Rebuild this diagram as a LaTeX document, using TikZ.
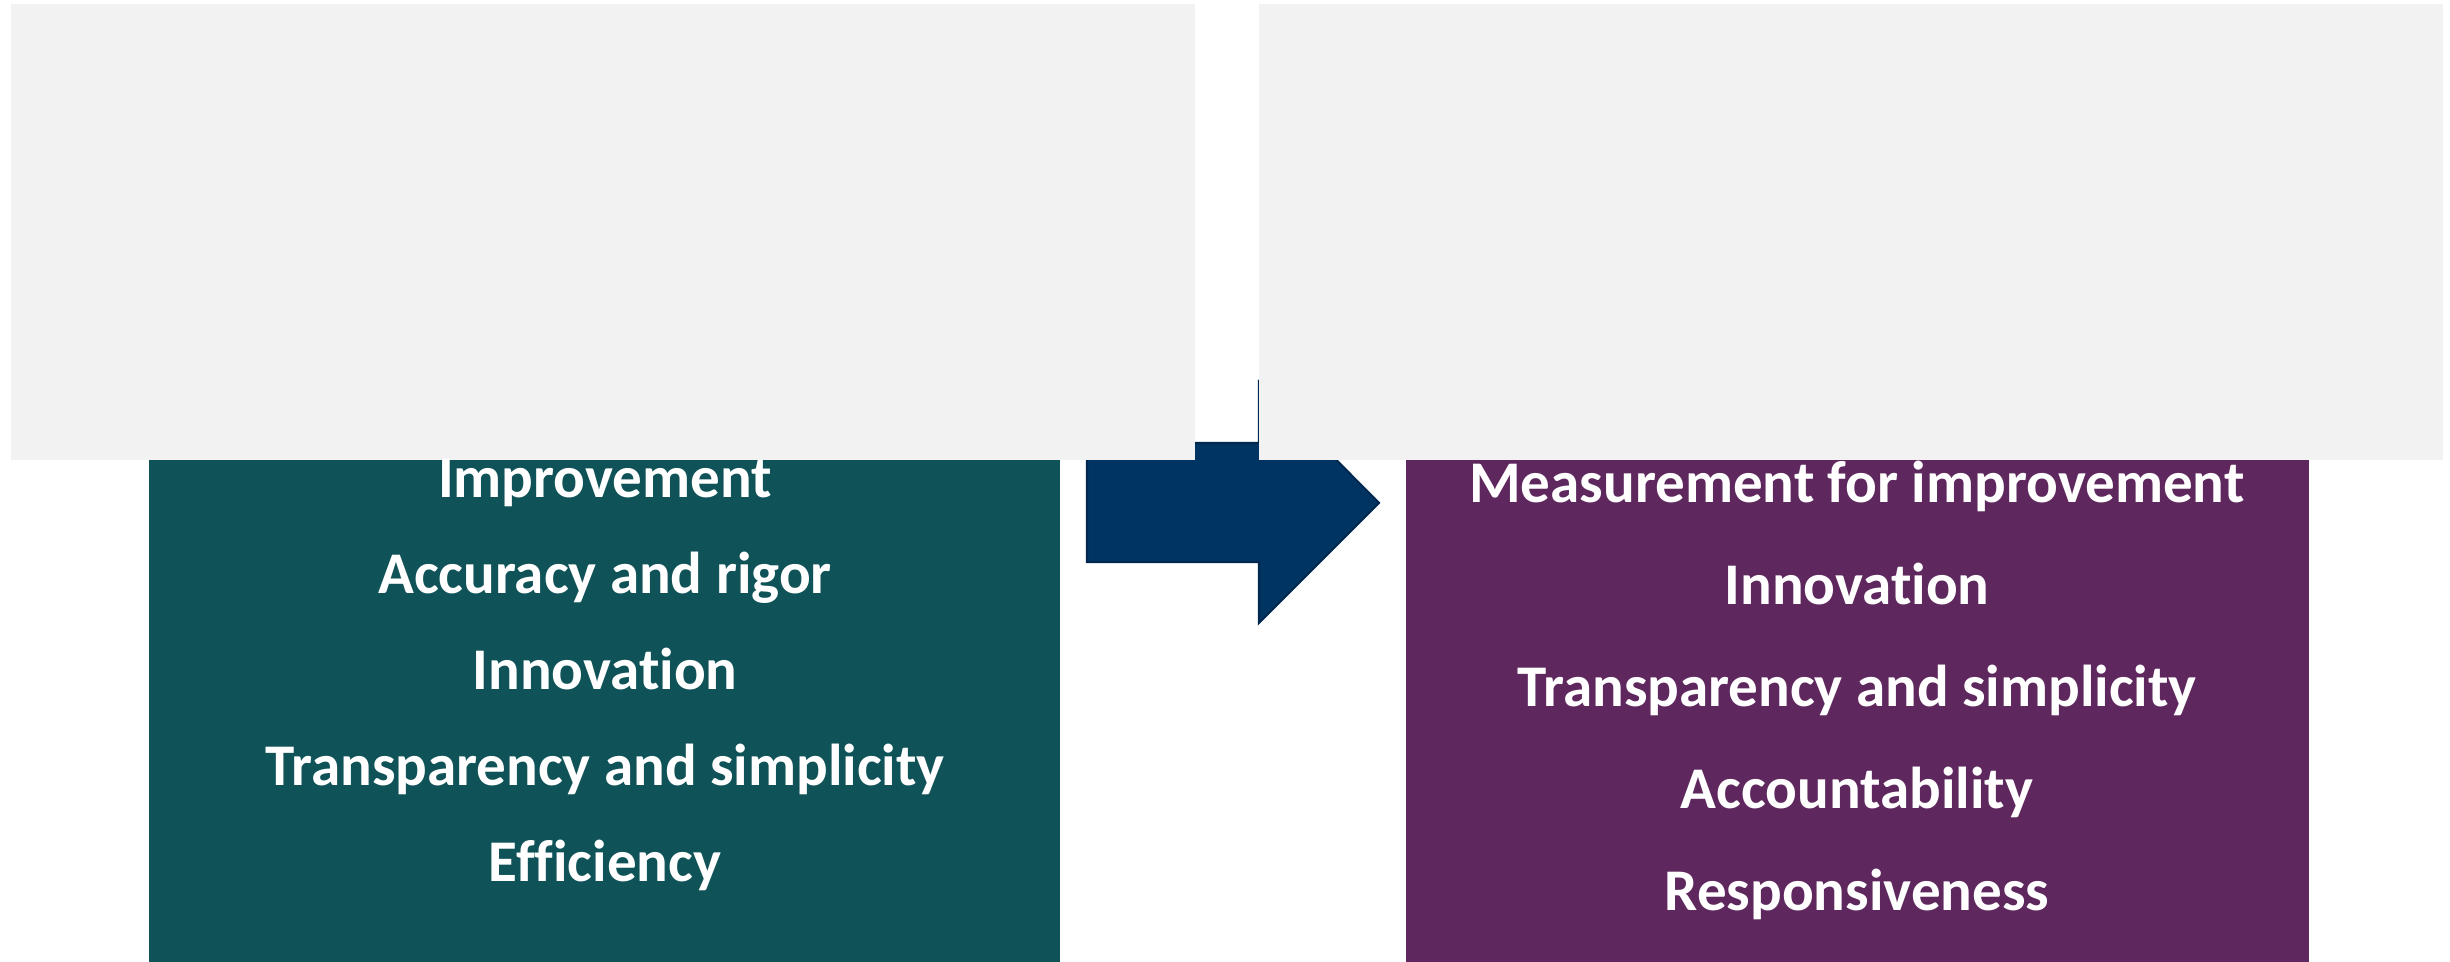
\documentclass[tikz,border=0pt]{standalone}
\usepackage{fontspec}
\setmainfont{Carlito}[RawFeature=-liga]
\usepackage{tikz}

\definecolor{panelgrey}{RGB}{242,242,242}
\definecolor{oldteal}{RGB}{15,82,87}
\definecolor{newplum}{RGB}{94,40,94}
\definecolor{shiftblue}{RGB}{0,52,98}
\definecolor{shiftedge}{RGB}{0,40,78}

\tikzset{
    value/.style={text=white, font=\bfseries\fontsize{16.8}{20}\selectfont, anchor=base, inner sep=0pt},
    panel/.style={fill=panelgrey}
}

\begin{document}
\begin{tikzpicture}[x=0.01cm, y=-0.01cm]
        \useasboundingbox (0,0) rectangle (2450,962);
        % value boxes
        \fill[oldteal] (149,420) rectangle (1060,962);
        \fill[newplum] (1406,420) rectangle (2309,962);
        % shift arrow
        \filldraw[fill=shiftblue, draw=shiftedge, line width=0.6pt]
            (1087,443) -- (1259,443) -- (1259,382) -- (1379,503) -- (1259,623) -- (1259,562) -- (1087,562) -- cycle;
        % grey title panels
        \fill[panel] (11,4) rectangle (1195,460);
        \fill[panel] (1259,4) rectangle (2443,460);
        % old values
        \node[value] (oldA) at (605,498) {Improvement};
        \node[value] (oldB) at (605,594) {Accuracy and rigor};
        \node[value] (oldC) at (605,690) {Innovation};
        \node[value] (oldD) at (605,786) {Transparency and simplicity};
        \node[value] (oldE) at (605,882) {Efficiency};
        % new values
        \node[value] (newA) at (1857,503) {Measurement for improvement};
        \node[value] (newB) at (1857,605) {Innovation};
        \node[value] (newC) at (1857,707) {Transparency and simplicity};
        \node[value] (newD) at (1857,809) {Accountability};
        \node[value] (newE) at (1857,911) {Responsiveness};
    \end{tikzpicture}
\end{document}
